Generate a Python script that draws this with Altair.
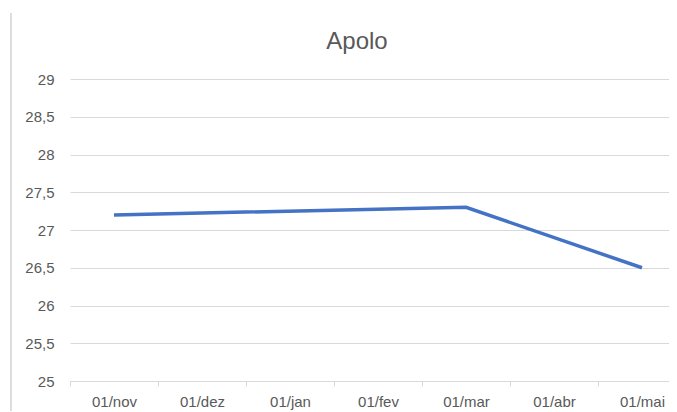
import altair as alt
import pandas as pd

categories = ["01/nov", "01/dez", "01/jan", "01/fev", "01/mar", "01/abr", "01/mai"]
point_dates = ["01/nov", "01/mar", "01/mai"]
point_values = [27.2, 27.3, 26.5]
y_ticks = [25, 25.5, 26, 26.5, 27, 27.5, 28, 28.5, 29]
chart_title = "Apolo"

df = pd.DataFrame({"data": point_dates, "valor": point_values})
title_df = pd.DataFrame({"t": [chart_title]})

grey = "#D9D9D9"
txt = "#595959"
font = "Liberation Sans"

line = alt.Chart(df).mark_line(color="#4472C4", strokeWidth=3.5).encode(
    x=alt.X(
        "data:N",
        sort=categories,
        bandPosition=0.5,
        scale=alt.Scale(type="band", domain=categories, paddingInner=0, paddingOuter=0, range=[0, 616]),
        axis=alt.Axis(
            title=None,
            tickBand="extent",
            labelAngle=0,
            domainColor=grey,
            tickColor=grey,
            tickSize=5,
            labelColor=txt,
            labelFont=font,
            labelFontSize=15,
            labelPadding=8,
            grid=False,
        ),
    ),
    y=alt.Y(
        "valor:Q",
        scale=alt.Scale(domain=[25, 29], nice=False, zero=False),
        axis=alt.Axis(
            title=None,
            values=y_ticks,
            labelExpr="replace(format(datum.value, '~g'), '.', ',')",
            domain=False,
            ticks=False,
            gridColor=grey,
            labelColor=txt,
            labelFont=font,
            labelFontSize=15,
            labelPadding=16,
        ),
    ),
)

border = alt.Chart(df).mark_rule(color=grey, strokeWidth=1).encode(
    x=alt.value(-59), y=alt.value(-66), y2=alt.value(340)
)

title = alt.Chart(title_df).mark_text(
    font=font, fontSize=24, color=txt, align="center", baseline="middle"
).encode(x=alt.value(287), y=alt.value(-37), text="t:N")

chart = alt.layer(border, line, title).properties(
    width=599,
    height=302,
    autosize=alt.AutoSizeParams(type="none"),
    padding={"left": 62, "top": 71, "right": 0, "bottom": 30},
).configure_view(stroke=None)

chart.save("out.html", embed_options={"renderer": "svg", "actions": False})
